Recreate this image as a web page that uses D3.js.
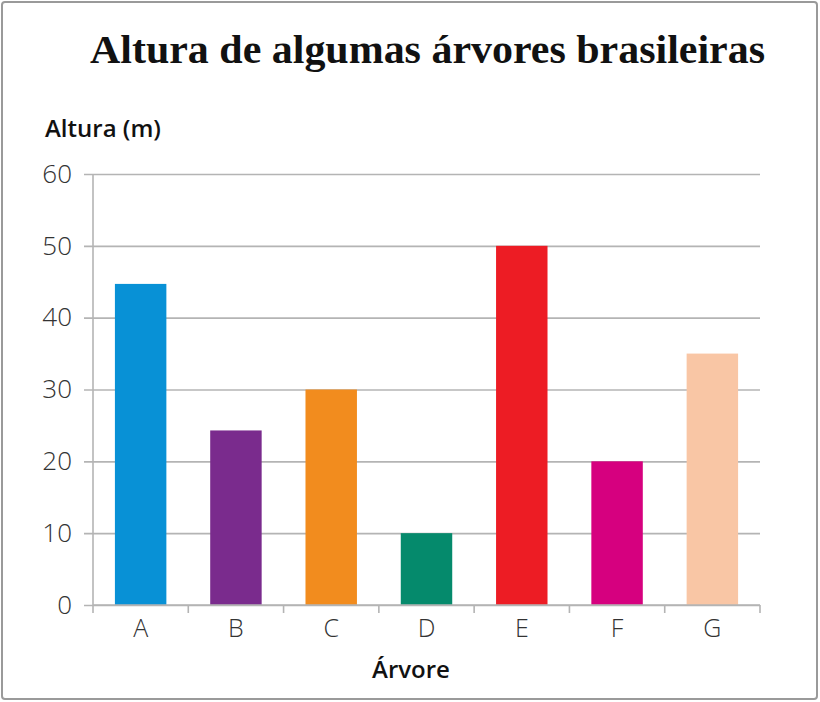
<!DOCTYPE html>
<html>
<head>
<meta charset="utf-8">
<script src="https://cdn.jsdelivr.net/npm/d3@7"></script>
<style>
  body { margin: 0; background: #fff; }
</style>
</head>
<body>
<script>
// data
var trees = ["A", "B", "C", "D", "E", "F", "G"];
var heights = [44.7, 24.3, 30, 10, 50, 20, 35];
var barColors = ["#0891d6", "#7a2b8d", "#f28c1e", "#058a6c", "#ed1c24", "#d6007f", "#f9c6a5"];
var yTicks = [0, 10, 20, 30, 40, 50, 60];

var width = 820, height = 702;
var plotLeft = 93, plotRight = 760, plotTop = 174, plotBottom = 605;

var svg = d3.select("body").append("svg")
    .attr("width", width)
    .attr("height", height);

// frame
svg.append("rect")
    .attr("x", 2).attr("y", 2)
    .attr("width", 815).attr("height", 697)
    .attr("rx", 3)
    .attr("fill", "#fff")
    .attr("stroke", "#9a9a9a")
    .attr("stroke-width", 2);

var x = d3.scaleBand()
    .domain(trees)
    .range([plotLeft, plotRight])
    .paddingInner(0.46)
    .paddingOuter(0.23);

var y = d3.scaleLinear()
    .domain([0, 60])
    .range([plotBottom, plotTop]);

// grid + y axis
var yAxis = svg.append("g")
    .attr("transform", "translate(" + plotLeft + ",0)")
    .call(d3.axisLeft(y).tickValues(yTicks).tickSize(9).tickPadding(12));
yAxis.select(".domain").remove();
yAxis.selectAll(".tick line")
    .attr("stroke", "#b4b4b4")
    .attr("stroke-width", 1.6)
    .attr("x1", -9)
    .attr("x2", plotRight - plotLeft);
yAxis.selectAll("text")
    .attr("x", -21)
    .attr("font-family", "'Open Sans', sans-serif")
    .attr("font-weight", 300)
    .attr("font-size", "26px")
    .attr("fill", "#333");

svg.append("line")
    .attr("x1", plotLeft).attr("x2", plotLeft)
    .attr("y1", plotTop).attr("y2", plotBottom + 8)
    .attr("stroke", "#b4b4b4")
    .attr("stroke-width", 1.6);

// bars
svg.selectAll(".bar")
    .data(heights)
    .enter().append("rect")
    .attr("class", "bar")
    .attr("x", function (d, i) { return x(trees[i]); })
    .attr("y", function (d) { return y(d); })
    .attr("width", x.bandwidth())
    .attr("height", function (d) { return y(0) - y(d); })
    .attr("fill", function (d, i) { return barColors[i]; });

// x axis with ticks between categories
var xAxis = svg.append("g")
    .attr("transform", "translate(0," + plotBottom + ")")
    .call(d3.axisBottom(x).tickSize(0).tickPadding(14));
xAxis.select(".domain")
    .attr("stroke", "#b4b4b4")
    .attr("stroke-width", 1.6)
    .attr("d", "M" + plotLeft + ",0H" + plotRight);
xAxis.selectAll("text")
    .attr("font-family", "'Open Sans', sans-serif")
    .attr("font-weight", 300)
    .attr("font-size", "25px")
    .attr("fill", "#333");

var step = x.step();
var bounds = trees.map(function (t) { return x(t) - x.paddingInner() * step / 2; });
bounds.shift();
bounds.push(plotRight);
svg.selectAll(".sep")
    .data(bounds)
    .enter().append("line")
    .attr("class", "sep")
    .attr("x1", function (d) { return d; }).attr("x2", function (d) { return d; })
    .attr("y1", plotBottom).attr("y2", plotBottom + 8)
    .attr("stroke", "#b4b4b4")
    .attr("stroke-width", 1.6);

// texts
svg.append("text")
    .attr("x", 90).attr("y", 63)
    .attr("font-family", "'Liberation Serif', serif")
    .attr("font-weight", "bold")
    .attr("font-size", "41px")
    .attr("textLength", 675)
    .attr("lengthAdjust", "spacingAndGlyphs")
    .attr("fill", "#111")
    .text("Altura de algumas árvores brasileiras");

svg.append("text")
    .attr("x", 45).attr("y", 137)
    .attr("font-family", "'Open Sans', sans-serif")
    .attr("font-weight", 600)
    .attr("font-size", "24px")
    .attr("fill", "#111")
    .text("Altura (m)");

svg.append("text")
    .attr("x", 411).attr("y", 678)
    .attr("text-anchor", "middle")
    .attr("font-family", "'Open Sans', sans-serif")
    .attr("font-weight", 600)
    .attr("font-size", "24px")
    .attr("fill", "#111")
    .text("Árvore");
</script>
</body>
</html>
